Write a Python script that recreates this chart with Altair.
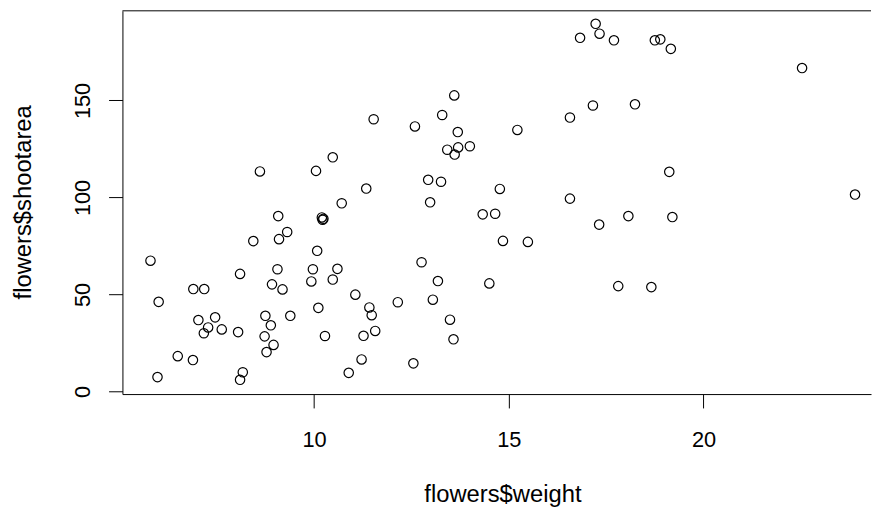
import altair as alt
import pandas as pd

# flowers$weight (x) and flowers$shootarea (y)
weight = [8.61, 10.05, 10.48, 11.34, 10.71, 17.23, 17.33, 16.83, 13.60, 13.29,
          11.53, 12.59, 13.69, 15.22, 17.16, 16.57, 13.42, 13.70, 14.00, 13.61,
          12.93, 13.26, 14.77, 16.57, 12.98, 14.33, 14.65, 17.70, 18.75, 18.89,
          19.16, 22.53, 18.24, 19.12, 23.89, 9.08, 10.20, 10.22, 10.24, 9.31,
          9.10, 8.44, 10.08, 5.80, 8.10, 9.06, 9.97, 10.60, 10.48, 9.93,
          6.90, 7.18, 8.92, 9.19, 11.06, 6.01, 10.11, 11.42, 11.48, 8.75,
          9.39, 7.46, 7.03, 8.89, 7.28, 7.63, 8.05, 7.17, 8.73, 10.28,
          11.27, 8.96, 8.78, 6.50, 6.89, 11.22, 10.89, 8.17, 8.10, 5.98,
          17.32, 14.85, 15.49, 12.76, 13.18, 14.50, 12.15, 13.05, 13.49, 11.57,
          13.58, 12.55, 18.07, 19.20, 17.81, 18.66]

shootarea = [113.4, 113.7, 120.7, 104.6, 97.0, 189.5, 184.4, 182.3, 152.6, 142.5,
             140.3, 136.6, 133.7, 134.8, 147.4, 141.2, 124.6, 125.8, 126.4, 122.1,
             109.1, 108.1, 104.4, 99.4, 97.5, 91.3, 91.6, 181.0, 181.0, 181.5,
             176.6, 166.7, 148.0, 113.2, 101.5, 90.4, 89.7, 88.5, 89.0, 82.2,
             78.5, 77.5, 72.5, 67.4, 60.6, 63.0, 63.0, 63.2, 57.7, 56.7,
             52.8, 52.8, 55.2, 52.6, 49.9, 46.2, 43.1, 43.3, 39.3, 39.0,
             39.0, 38.2, 36.8, 34.1, 33.0, 32.0, 30.6, 30.0, 28.4, 28.6,
             28.7, 24.0, 20.3, 18.2, 16.2, 16.5, 9.6, 9.9, 6.0, 7.4,
             86.0, 77.6, 77.1, 66.6, 56.9, 55.7, 46.0, 47.3, 37.0, 31.2,
             26.9, 14.5, 90.4, 89.9, 54.3, 53.8]

x_ticks = [10, 15, 20]
y_ticks = [0, 50, 100, 150]
x_label = "flowers$weight"
y_label = "flowers$shootarea"

df = pd.DataFrame({"weight": weight, "shootarea": shootarea})

W = 755.5
H = 386.8
FONT = "Liberation Sans"
LFS = 22
TFS = 24

points = alt.Chart(df).mark_point(
    shape="circle", filled=False, size=90, strokeWidth=1.2,
    color="black", opacity=1
).encode(
    x=alt.X("weight:Q",
            scale=alt.Scale(domain=[5.08, 24.30], nice=False, zero=False),
            axis=alt.Axis(values=x_ticks, title=x_label, grid=False,
                          tickSize=14, labelPadding=39.4,
                          labelBaseline="alphabetic",
                          titleX=383.5, titleY=108.7,
                          titleBaseline="alphabetic", titleAlign="center")),
    y=alt.Y("shootarea:Q",
            scale=alt.Scale(domain=[-1.34, 196.2], nice=False, zero=False),
            axis=alt.Axis(values=y_ticks, title=y_label, grid=False,
                          tickSize=14, labelPadding=19.5, labelAngle=-90,
                          labelAlign="center", labelBaseline="alphabetic",
                          titleAngle=270, titleX=-92.5, titleY=192.8,
                          titleBaseline="alphabetic", titleAlign="center")),
)

top_line = alt.Chart(pd.DataFrame({"a": [0]})).mark_rule(
    color="black", strokeWidth=1
).encode(x=alt.value(0), x2=alt.value(W), y=alt.value(0))

chart = alt.layer(points, top_line).properties(
    width=W, height=H,
    autosize=alt.AutoSizeParams(type="none"),
    padding={"left": 115.5, "top": 0.5, "right": 1, "bottom": 118.7},
    background="white",
).configure_view(
    stroke=None
).configure_axis(
    domainColor="black", domainWidth=1,
    tickColor="black", tickWidth=1,
    labelColor="black", titleColor="black",
    labelFont=FONT, titleFont=FONT,
    labelFontSize=LFS, titleFontSize=TFS,
    titleFontWeight="normal",
    labelFlush=False, labelOverlap=False,
)

chart.save("out.html", embed_options={"renderer": "svg", "actions": False})
